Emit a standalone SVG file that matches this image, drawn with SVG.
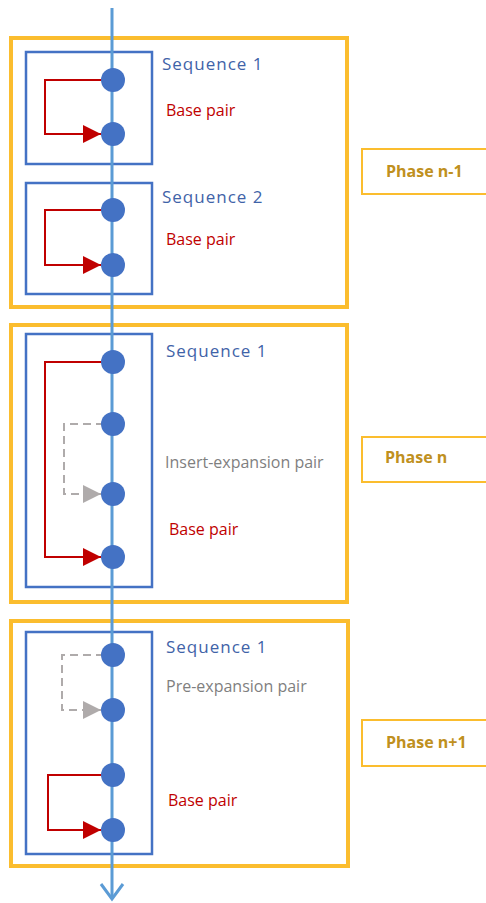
<svg xmlns="http://www.w3.org/2000/svg" width="486" height="903" viewBox="0 0 486 903">
<style>
.phase{fill:none;stroke:#FBBD2E;stroke-width:4}
.seq{fill:none;stroke:#4472C4;stroke-width:2.5}
.lab{fill:none;stroke:#FBBD2E;stroke-width:2}
.dot{fill:#4472C4}
.t{font-family:"Open Sans","Noto Sans",sans-serif;font-size:16px}
.seqt{fill:#3F63A8;font-size:17px;letter-spacing:1px}
.red{fill:#C00000}
.gray{fill:#7F7F7F}
.pt{font-family:"Open Sans","Noto Sans",sans-serif;font-size:16px;font-weight:bold;fill:#BF9020}
.rc{fill:none;stroke:#C00000;stroke-width:2}
.gc{fill:none;stroke:#AFABAB;stroke-width:2;stroke-dasharray:8 5}
</style>
<defs>
<marker id="ar" markerUnits="userSpaceOnUse" markerWidth="18" markerHeight="18" refX="18" refY="9" orient="auto"><path d="M0,0 L18,9 L0,18 Z" fill="#C00000"/></marker>
<marker id="ag" markerUnits="userSpaceOnUse" markerWidth="18" markerHeight="18" refX="18" refY="9" orient="auto"><path d="M0,0 L18,9 L0,18 Z" fill="#AFABAB"/></marker>
</defs>
<g id="phase-n-1"><rect class="phase" x="11" y="38" width="336" height="269"/></g>
<g id="phase-n"><rect class="phase" x="11" y="325" width="336" height="277"/></g>
<g id="phase-n1"><rect class="phase" x="11" y="621" width="337" height="245"/></g>
<g id="seq1-a"><rect class="seq" x="26" y="52" width="126" height="112"/><text class="t seqt" x="162" y="70">Sequence 1</text></g>
<g id="seq2-a"><rect class="seq" x="26" y="183" width="126" height="111"/><text class="t seqt" x="162" y="203">Sequence 2</text></g>
<g id="seq1-b"><rect class="seq" x="26" y="334" width="126" height="253"/><text class="t seqt" x="166" y="357">Sequence 1</text></g>
<g id="seq1-c"><rect class="seq" x="26" y="632" width="126" height="222"/><text class="t seqt" x="166" y="653">Sequence 1</text></g>
<g id="connectors">
<line x1="112" y1="8" x2="112" y2="899" stroke="#5B9BD5" stroke-width="3"/>
<path d="M101,884 L112,899 L123,884" fill="none" stroke="#5B9BD5" stroke-width="3"/>
<path class="rc" d="M104,80 H45 V134 H101" marker-end="url(#ar)"/>
<path class="rc" d="M104,210 H45 V265 H101" marker-end="url(#ar)"/>
<path class="rc" d="M104,362 H45 V557 H101" marker-end="url(#ar)"/>
<path class="gc" d="M104,424 H64 V494 H101" marker-end="url(#ag)"/>
<path class="gc" d="M104,655 H62 V710 H101" marker-end="url(#ag)"/>
<path class="rc" d="M104,775 H48 V830 H101" marker-end="url(#ar)"/>
</g>
<g id="nodes">
<circle class="dot" cx="113" cy="80" r="12"/>
<circle class="dot" cx="113" cy="134" r="12"/>
<circle class="dot" cx="113" cy="210" r="12"/>
<circle class="dot" cx="113" cy="265" r="12"/>
<circle class="dot" cx="113" cy="362" r="12"/>
<circle class="dot" cx="113" cy="424" r="12"/>
<circle class="dot" cx="113" cy="494" r="12"/>
<circle class="dot" cx="113" cy="557" r="12"/>
<circle class="dot" cx="113" cy="655" r="12"/>
<circle class="dot" cx="113" cy="710" r="12"/>
<circle class="dot" cx="113" cy="775" r="12"/>
<circle class="dot" cx="113" cy="830" r="12"/>
</g>
<g id="labels">
<text class="t red" x="166" y="116">Base pair</text>
<text class="t red" x="166" y="245">Base pair</text>
<text class="t gray" x="165" y="468">Insert-expansion pair</text>
<text class="t red" x="169" y="535">Base pair</text>
<text class="t gray" x="166" y="692">Pre-expansion pair</text>
<text class="t red" x="168" y="806">Base pair</text>
</g>
<g id="phase-label-n-1"><rect class="lab" x="362" y="149" width="140" height="45"/><text class="pt" x="386" y="177">Phase n-1</text></g>
<g id="phase-label-n"><rect class="lab" x="362" y="437" width="140" height="45"/><text class="pt" x="385" y="463">Phase n</text></g>
<g id="phase-label-n1"><rect class="lab" x="362" y="720" width="140" height="46"/><text class="pt" x="386" y="748">Phase n+1</text></g>
</svg>
